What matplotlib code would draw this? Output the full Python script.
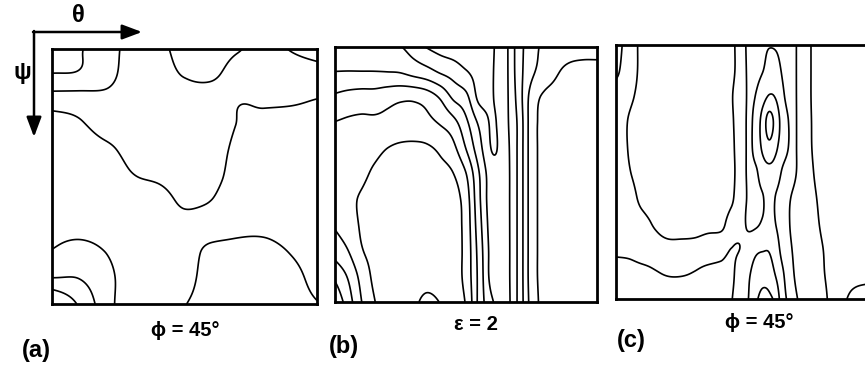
import numpy as np
import matplotlib
matplotlib.use("Agg")
import matplotlib.pyplot as plt

W, H = 865, 365
plt.rcParams["font.family"] = ["Liberation Sans", "DejaVu Sans"]

# ODF intensity sampled on (psi, theta) nodes; rows run psi top->bottom, columns theta left->right
theta_a = np.linspace(0, 1, 11)
psi_a = np.linspace(0, 1, 11)
odf_a = [
    [3.6, 3.1, 2.5, 1.7, 1.8, 2.3, 2.5, 2.1, 1.6, 2.05, 2.4],
    [2.95, 2.9, 2.4, 1.6, 1.7, 2.05, 2.2, 1.5, 1.35, 1.5, 1.6],
    [1.5, 1.5, 1.7, 1.5, 1.55, 1.6, 1.4, 1.05, 1.08, 1.1, 0.98],
    [0.5, 0.85, 1.3, 1.3, 1.4, 1.5, 1.35, 0.98, 0.85, 0.7, 0.7],
    [0.4, 0.5, 0.8, 1.2, 1.3, 1.4, 1.3, 0.85, 0.7, 0.6, 0.6],
    [0.35, 0.4, 0.5, 0.95, 1.1, 1.3, 1.25, 0.7, 0.6, 0.55, 0.55],
    [0.35, 0.4, 0.45, 0.6, 0.7, 1.1, 0.98, 0.5, 0.6, 0.55, 0.5],
    [0.6, 0.6, 0.5, 0.45, 0.5, 0.7, 0.6, 0.8, 0.85, 0.7, 0.5],
    [1.1, 1.5, 1.02, 0.4, 0.4, 0.5, 1.3, 1.3, 1.25, 0.98, 0.55],
    [2.05, 2.0, 1.4, 0.4, 0.35, 0.6, 1.5, 1.6, 1.5, 1.3, 0.7],
    [4.5, 2.9, 1.5, 0.3, 0.3, 0.95, 1.5, 1.6, 1.6, 1.4, 1.05],
]
levels_a = [1, 2, 3]

theta_b = np.linspace(0, 1, 21)
psi_b = np.linspace(0, 1, 11)
odf_b = [
    [4.3, 4.4, 4.5, 4.6, 4.75, 4.95, 5.5, 6.05, 6.4, 6.6, 6.7, 6.6, 6.1, 5.3, 3.5, 2.4, 1.8, 1.6, 1.55, 1.5, 1.5],
    [3.97, 3.95, 3.95, 3.95, 3.97, 4.02, 4.3, 4.6, 5.05, 5.4, 5.9, 6.3, 6.05, 5.3, 3.5, 2.2, 1.6, 1.05, 0.7, 0.6, 0.6],
    [2.8, 2.6, 2.5, 2.5, 2.3, 2.15, 2.15, 2.4, 3.05, 4.1, 4.7, 6.2, 6.05, 5.3, 3.6, 1.6, 0.8, 0.6, 0.5, 0.5, 0.5],
    [1.95, 1.85, 1.8, 1.8, 1.75, 1.7, 1.7, 1.75, 2.05, 2.6, 3.75, 5.15, 6.1, 5.3, 3.8, 1.5, 0.7, 0.5, 0.5, 0.5, 0.5],
    [1.6, 1.55, 1.45, 1.25, 0.98, 0.8, 0.75, 0.85, 1.15, 1.7, 3.0, 4.6, 6.05, 5.4, 3.8, 1.5, 0.7, 0.5, 0.5, 0.5, 0.5],
    [1.6, 1.45, 1.2, 0.85, 0.6, 0.5, 0.5, 0.55, 0.7, 0.95, 1.95, 3.95, 5.6, 5.4, 3.8, 1.5, 0.7, 0.5, 0.5, 0.5, 0.5],
    [1.35, 1.2, 0.9, 0.6, 0.5, 0.45, 0.45, 0.45, 0.45, 0.6, 1.5, 3.8, 5.6, 5.4, 3.8, 1.5, 0.7, 0.5, 0.5, 0.5, 0.5],
    [1.9, 1.5, 0.9, 0.6, 0.45, 0.45, 0.45, 0.45, 0.45, 0.55, 1.4, 3.6, 5.5, 5.4, 3.8, 1.5, 0.7, 0.5, 0.5, 0.5, 0.5],
    [2.6, 2.02, 1.1, 0.7, 0.45, 0.45, 0.45, 0.45, 0.45, 0.55, 1.35, 3.4, 5.4, 5.4, 3.8, 1.5, 0.7, 0.5, 0.5, 0.5, 0.5],
    [3.8, 2.9, 1.7, 0.8, 0.5, 0.45, 0.45, 0.55, 0.5, 0.55, 1.35, 3.3, 5.4, 5.4, 3.8, 1.5, 0.7, 0.5, 0.5, 0.5, 0.5],
    [4.8, 3.5, 2.05, 1.05, 0.6, 0.5, 0.75, 1.3, 0.98, 0.6, 1.1, 3.3, 4.9, 5.4, 3.8, 1.6, 0.7, 0.5, 0.5, 0.5, 0.5],
]
levels_b = [1, 2, 3, 4, 5, 6]

theta_c = [0, .05, .1, .15, .2, .25, .3, .35, .4, .44, .48, .51, .535,
           .56, .585, .61, .635, .66, .69, .72, .75, .8, .85, .9, .95, 1.0]
psi_c = np.linspace(0, 1, 11)
odf_c = [
    [1.6, 2.3, 1.8, 1.6, 1.5, 1.5, 1.5, 1.5, 1.6, 1.85, 2.2, 1.8, 1.8, 1.85, 1.95, 1.9, 1.7, 1.5, 0.98, 0.8, 1.05, 1.3, 1.4, 1.5, 1.5, 1.5],
    [1.85, 2.3, 1.8, 1.55, 1.5, 1.5, 1.5, 1.5, 1.6, 1.85, 2.2, 1.85, 1.8, 1.97, 2.35, 2.35, 1.9, 1.5, 0.98, 0.8, 1.05, 1.3, 1.4, 1.5, 1.5, 1.5],
    [2.3, 2.15, 1.75, 1.55, 1.5, 1.5, 1.5, 1.5, 1.7, 1.95, 2.3, 1.85, 2.05, 2.6, 3.05, 2.9, 2.2, 1.6, 0.98, 0.8, 1.05, 1.3, 1.4, 1.5, 1.5, 1.5],
    [2.4, 1.95, 1.6, 1.5, 1.5, 1.5, 1.5, 1.5, 1.6, 1.9, 2.3, 1.85, 2.4, 3.4, 4.4, 3.6, 2.6, 1.95, 0.98, 0.8, 1.03, 1.3, 1.4, 1.5, 1.5, 1.5],
    [2.4, 1.95, 1.6, 1.5, 1.5, 1.5, 1.5, 1.5, 1.6, 1.85, 2.3, 1.85, 2.4, 3.2, 3.75, 3.2, 2.5, 1.95, 0.98, 0.8, 1.02, 1.3, 1.4, 1.5, 1.5, 1.5],
    [2.45, 2.05, 1.65, 1.5, 1.5, 1.5, 1.5, 1.5, 1.6, 1.85, 2.2, 1.85, 1.9, 2.5, 2.7, 2.5, 1.9, 1.5, 0.98, 0.75, 0.97, 1.3, 1.4, 1.5, 1.5, 1.5],
    [2.45, 2.3, 1.8, 1.55, 1.5, 1.5, 1.5, 1.5, 1.6, 1.9, 2.25, 1.85, 1.8, 1.95, 2.4, 1.95, 1.6, 1.1, 0.8, 0.7, 0.9, 1.2, 1.4, 1.5, 1.5, 1.5],
    [2.45, 2.35, 2.2, 1.9, 1.65, 1.65, 1.7, 1.8, 1.88, 2.15, 2.2, 1.8, 1.85, 2.1, 2.4, 1.98, 1.6, 1.05, 0.7, 0.7, 0.85, 1.15, 1.4, 1.5, 1.5, 1.5],
    [2.2, 2.2, 2.3, 2.2, 2.15, 2.15, 2.15, 2.2, 2.15, 2.0, 2.05, 2.5, 2.8, 2.9, 2.9, 2.4, 1.7, 1.2, 0.75, 0.7, 0.8, 1.05, 1.3, 1.45, 1.5, 1.5],
    [1.6, 1.7, 1.8, 1.95, 2.04, 2.04, 1.97, 1.85, 1.8, 1.85, 2.5, 2.95, 3.4, 3.6, 3.5, 2.9, 2.15, 1.5, 0.8, 0.7, 0.75, 1.02, 1.3, 1.6, 1.7, 1.7],
    [1.5, 1.5, 1.5, 1.5, 1.5, 1.5, 1.5, 1.5, 1.6, 1.95, 2.6, 3.1, 3.85, 4.3, 4.2, 3.7, 2.4, 1.8, 1.05, 0.75, 0.8, 0.95, 1.5, 2.25, 2.5, 2.5],
]
levels_c = [1, 2, 3, 4]

captions = ["\u03d5 = 45\u00b0", "\u03b5 = 2", "\u03d5 = 45\u00b0"]
tags = ["(a)", "(b)", "(c)"]


def hermite_weights(nodes, fine):
    """Weights of a C1 cubic Hermite interpolant (three-point slopes) on arbitrary nodes."""
    t = np.asarray(nodes, float)
    n = len(t)
    h = np.diff(t)
    idx = np.clip(np.searchsorted(t, fine, side="right") - 1, 0, n - 2)
    u = (fine - t[idx]) / h[idx]
    h00 = 2 * u**3 - 3 * u**2 + 1
    h10 = u**3 - 2 * u**2 + u
    h01 = -2 * u**3 + 3 * u**2
    h11 = u**3 - u**2
    Wm = np.zeros((len(fine), n))
    for j in range(n):
        v = np.zeros(n)
        v[j] = 1.0
        d = np.diff(v) / h
        m = np.empty(n)
        m[0], m[-1] = d[0], d[-1]
        m[1:-1] = (d[:-1] * h[1:] + d[1:] * h[:-1]) / (h[:-1] + h[1:])
        Wm[:, j] = (h00 * v[idx] + h10 * h[idx] * m[idx]
                    + h01 * v[idx + 1] + h11 * h[idx] * m[idx + 1])
    return Wm


def smooth_field(tx, py, grid, n=401):
    fx = np.linspace(0, 1, n)
    fy = np.linspace(0, 1, n)
    G = np.asarray(grid, float)
    Z = hermite_weights(py, fy) @ G @ hermite_weights(tx, fx).T
    return fx, fy, Z


fig = plt.figure(figsize=(W / 100, H / 100), dpi=100)

# panel frames in pixels: left, top, width, height
frames = [(52, 49, 265, 255), (335, 47, 262, 255), (616, 45, 262, 254)]
fields = [(theta_a, psi_a, odf_a, levels_a),
          (theta_b, psi_b, odf_b, levels_b),
          (theta_c, psi_c, odf_c, levels_c)]

for (l, t, w, h), (tx, py, grid, lev) in zip(frames, fields):
    ax = fig.add_axes([l / W, 1 - (t + h) / H, w / W, h / H])
    fx, fy, Z = smooth_field(tx, py, grid)
    ax.contour(fx, fy, Z, levels=lev, colors="k", linewidths=1.2)
    ax.set_xlim(0, 1)
    ax.set_ylim(1, 0)
    ax.set_xticks([])
    ax.set_yticks([])
    for s in ax.spines.values():
        s.set_linewidth(2.0)

# overlay in pixel units for the axis arrows and captions
ov = fig.add_axes([0, 0, 1, 1])
ov.set_xlim(0, W)
ov.set_ylim(H, 0)
ov.axis("off")
ov.patch.set_alpha(0)

arrow = dict(arrowstyle="-|>,head_length=1.2,head_width=0.45", lw=1.8,
             color="k", shrinkA=0, shrinkB=0)
ov.annotate("", xy=(142, 32), xytext=(33, 32), arrowprops=arrow)
ov.annotate("", xy=(34, 137), xytext=(34, 31), arrowprops=arrow)
ov.text(78, 16, "\u03b8", ha="center", va="center", fontsize=17, fontweight="bold")
ov.text(22, 73, "\u03c8", ha="center", va="center", fontsize=17, fontweight="bold")

cap_pos = [(185, 330), (476, 325), (759, 322)]
tag_pos = [(36, 351), (344, 346), (631, 340)]
for txt, (x, y) in zip(captions, cap_pos):
    ov.text(x, y, txt, ha="center", va="center", fontsize=14.5, fontweight="bold")
for txt, (x, y) in zip(tags, tag_pos):
    ov.text(x, y, txt, ha="center", va="center", fontsize=17, fontweight="bold")

fig.savefig("out.png", dpi=100)
